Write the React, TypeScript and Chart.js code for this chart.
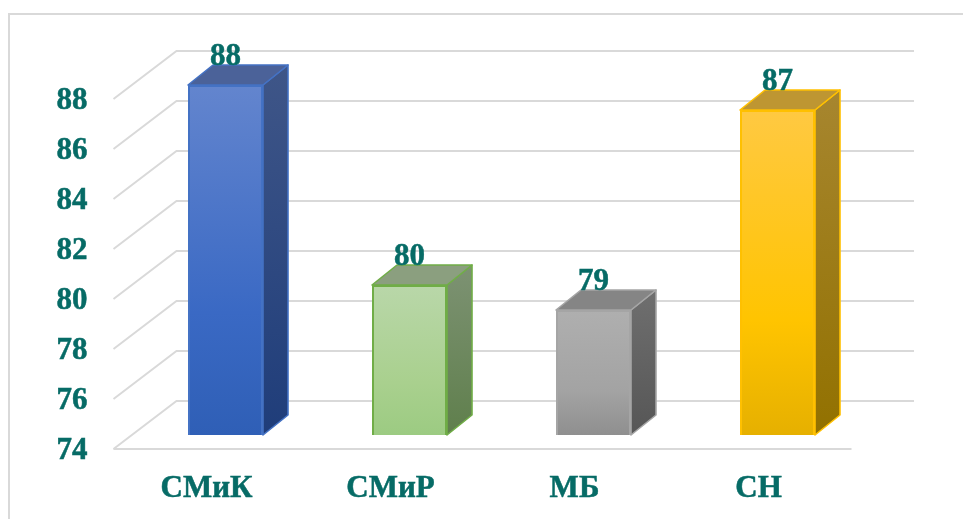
import React, { useEffect, useRef } from "react";
import { Chart, registerables } from "chart.js";

Chart.register(...registerables);

const categories = ["СМиК", "СМиР", "МБ", "СН"];
const values = [88, 80, 79, 87];
const axisMin = 74;
const axisMax = 88;
const axisStep = 2;

const FONT = "'Liberation Serif', serif";
const TEXT = "#066B66";
const GRID = "#D9D9D9";

const faces = [
  { border: "#4472C4", front: ["#6385CE", "#3A69C4", "#2F5FB6"], side: ["#3F5688", "#1F3D7A"], top: "#4B6299" },
  { border: "#70AD47", front: ["#B9D7A9", "#A9D08E", "#9CCB82"], side: ["#7D9273", "#5F7F4C"], top: "#8B9F7F" },
  { border: "#A5A5A5", front: ["#AFAFAF", "#A3A3A3", "#8F8F8F"], side: ["#6F6F6F", "#565656"], top: "#858585" },
  { border: "#FFC000", front: ["#FFC942", "#FFC400", "#E6B000"], side: ["#A7862F", "#927100"], top: "#BE9632" },
];

// 3-D projection offsets relative to the plot area
const DEPTH_X = 25;
const DEPTH_Y = 20;
const WALL_BACK_UP = 34;
const WALL_FRONT_DOWN = 14;

const scene = {
  id: "scene",
  beforeDatasetsDraw(chart: any) {
    const { ctx, chartArea, scales } = chart;
    const y = scales.y;
    const frontLeft = chartArea.left - 20;
    const backLeft = chartArea.left + 43;
    const backRight = chartArea.right + 44.5;
    const floorRight = chartArea.right - 18;
    ctx.save();
    ctx.strokeStyle = GRID;
    ctx.lineWidth = 2;
    y.ticks.forEach((t: any) => {
      const py = y.getPixelForValue(t.value);
      ctx.beginPath();
      ctx.moveTo(frontLeft, py + WALL_FRONT_DOWN);
      ctx.lineTo(backLeft, py - WALL_BACK_UP);
      ctx.lineTo(backRight, py - WALL_BACK_UP);
      ctx.stroke();
    });
    const floorY = y.getPixelForValue(axisMin) + WALL_FRONT_DOWN;
    ctx.beginPath();
    ctx.moveTo(frontLeft, floorY);
    ctx.lineTo(floorRight, floorY);
    ctx.stroke();

    chart.getDatasetMeta(0).data.forEach((bar: any, i: number) => {
      const f = faces[i];
      const l = bar.x - bar.width / 2;
      const r = bar.x + bar.width / 2;
      const t = bar.y;
      const b = bar.base;
      ctx.lineWidth = 1.6;
      ctx.lineJoin = "round";
      ctx.strokeStyle = f.border;
      const side = ctx.createLinearGradient(0, t - DEPTH_Y, 0, b);
      side.addColorStop(0, f.side[0]);
      side.addColorStop(1, f.side[1]);
      ctx.fillStyle = side;
      ctx.beginPath();
      ctx.moveTo(r, t);
      ctx.lineTo(r + DEPTH_X, t - DEPTH_Y);
      ctx.lineTo(r + DEPTH_X, b - DEPTH_Y);
      ctx.lineTo(r, b);
      ctx.closePath();
      ctx.fill();
      ctx.stroke();
      ctx.fillStyle = f.top;
      ctx.beginPath();
      ctx.moveTo(l, t);
      ctx.lineTo(l + DEPTH_X, t - DEPTH_Y);
      ctx.lineTo(r + DEPTH_X, t - DEPTH_Y);
      ctx.lineTo(r, t);
      ctx.closePath();
      ctx.fill();
      ctx.stroke();
    });
    ctx.restore();
  },
  afterDatasetsDraw(chart: any) {
    const { ctx } = chart;
    ctx.save();
    ctx.font = `bold 31px ${FONT}`;
    ctx.fillStyle = TEXT;
    ctx.strokeStyle = TEXT;
    ctx.lineWidth = 0.5;
    ctx.textAlign = "center";
    ctx.textBaseline = "middle";
    chart.getDatasetMeta(0).data.forEach((bar: any, i: number) => {
      ctx.fillText(String(values[i]), bar.x, bar.y - 28);
      ctx.strokeText(String(values[i]), bar.x, bar.y - 28);
    });
    ctx.restore();
  },
};

export default function App() {
  const ref = useRef<HTMLCanvasElement>(null);
  useEffect(() => {
    const chart = new Chart(ref.current as HTMLCanvasElement, {
      type: "bar",
      data: {
        labels: categories,
        datasets: [
          {
            data: values,
            base: axisMin,
            barPercentage: 0.4076,
            categoryPercentage: 1,
            borderWidth: 2,
            borderColor: (c: any) => faces[c.dataIndex]?.border ?? "#000",
            backgroundColor: (c: any) => {
              const y = c.chart.scales.y;
              const f = faces[c.dataIndex];
              if (!f) return "#000";
              if (!y || c.raw === undefined) return f.front[0];
              const y0 = y.getPixelForValue(c.raw);
              const y1 = y.getPixelForValue(axisMin);
              if (!Number.isFinite(y0) || !Number.isFinite(y1)) return f.front[0];
              const g = c.chart.ctx.createLinearGradient(0, y0, 0, y1);
              g.addColorStop(0, f.front[0]);
              g.addColorStop(0.65, f.front[1]);
              g.addColorStop(1, f.front[2]);
              return g;
            },
          },
        ],
      },
      options: {
        responsive: false,
        animation: false,
        devicePixelRatio: 1,
        layout: { padding: { left: 0, top: 85, right: 93.5, bottom: 0 } },
        plugins: { legend: { display: false }, tooltip: { enabled: false } },
        scales: {
          x: {
            grid: { display: false, drawTicks: false },
            border: { display: false },
            afterFit: (s: any) => {
              s.height = 84;
            },
            ticks: {
              color: TEXT,
              textStrokeColor: TEXT,
              textStrokeWidth: 0.5,
              font: { family: FONT, size: 31, weight: "bold" },
              padding: 35,
              labelOffset: -19,
              maxRotation: 0,
              autoSkip: false,
            },
          },
          y: {
            min: axisMin,
            max: axisMax,
            grid: { display: false, drawTicks: false },
            border: { display: false },
            afterFit: (s: any) => {
              s.width = 133.5;
            },
            ticks: {
              stepSize: axisStep,
              color: TEXT,
              textStrokeColor: TEXT,
              textStrokeWidth: 0.5,
              font: { family: FONT, size: 31, weight: "bold" },
              padding: 46,
              labelOffset: 16,
            },
          },
        },
      },
      plugins: [scene],
    } as any);
    return () => chart.destroy();
  }, []);
  return (
    <div style={{ position: "fixed", left: 0, top: 0, width: 963, height: 519, background: "#fff", overflow: "hidden" }}>
      <div
        style={{
          position: "absolute",
          left: 8,
          top: 13,
          width: 960,
          height: 520,
          borderLeft: "2px solid #D9D9D9",
          borderTop: "2px solid #D9D9D9",
        }}
      />
      <canvas ref={ref} width={963} height={519} style={{ position: "absolute", left: 0, top: 0, display: "block" }} />
    </div>
  );
}
